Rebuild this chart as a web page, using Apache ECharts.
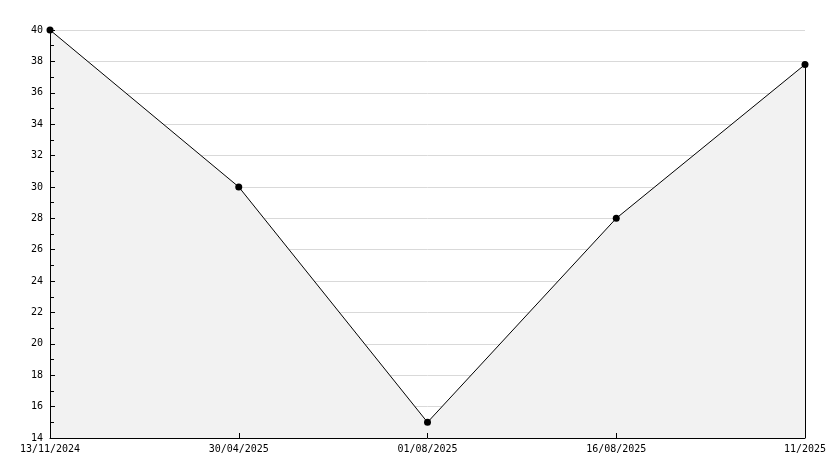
<!DOCTYPE html>
<html><head><meta charset="utf-8">
<script src="https://cdn.jsdelivr.net/npm/echarts@6/dist/echarts.min.js"></script>
<style>html,body{margin:0;padding:0;background:#fff}#c{width:834px;height:468px}</style>
</head><body><div id="c"></div>
<script>
const categories = ['13/11/2024', '30/04/2025', '01/08/2025', '16/08/2025', '11/2025'];
const values = [40, 30, 15, 28, 37.8];
const yMin = 14, yMax = 40, yStep = 2;

const font = '"DejaVu Sans Mono", monospace';
const chart = echarts.init(document.getElementById('c'), null, {renderer: 'canvas'});
const lastIdx = categories.length - 1;
chart.setOption({
  animation: false,
  backgroundColor: '#fff',
  grid: {left: 50, right: 29, top: 30, bottom: 30, containLabel: false},
  xAxis: {
    type: 'category', data: categories, boundaryGap: false,
    axisLine: {lineStyle: {color: '#000', width: 1}},
    axisTick: {show: true, inside: true, length: 5, lineStyle: {color: '#000', width: 1}},
    axisLabel: {color: '#000', fontFamily: font, fontSize: 10, margin: 6, interval: 0},
    splitLine: {show: false},
    z: 3
  },
  yAxis: [{
    type: 'value', min: yMin, max: yMax, interval: yStep,
    axisLine: {show: false}, axisTick: {show: false}, axisLabel: {show: false},
    splitLine: {show: true, lineStyle: {color: '#d9d9d9', width: 1}},
    z: 0
  }, {
    type: 'value', min: yMin, max: yMax, interval: yStep, position: 'left',
    axisLine: {show: true, lineStyle: {color: '#000', width: 1}},
    axisTick: {show: true, inside: true, length: 5, lineStyle: {color: '#000', width: 1}},
    minorTick: {show: true, splitNumber: 2, length: 4, lineStyle: {color: '#000', width: 1}},
    axisLabel: {color: '#000', fontFamily: font, fontSize: 10, margin: 7},
    splitLine: {show: false},
    z: 3
  }],
  series: [{
    type: 'line', data: values, yAxisIndex: 0,
    lineStyle: {color: '#000', width: 1},
    itemStyle: {color: '#000'},
    symbol: 'circle', symbolSize: 7,
    areaStyle: {color: '#f2f2f2', opacity: 1},
    z: 2,
    markLine: {
      silent: true, symbol: ['none', 'none'], label: {show: false},
      lineStyle: {color: '#000', width: 1, type: 'solid'},
      data: [[{coord: [lastIdx, values[lastIdx]]}, {coord: [lastIdx, yMin]}]]
    }
  }]
});
</script></body></html>
